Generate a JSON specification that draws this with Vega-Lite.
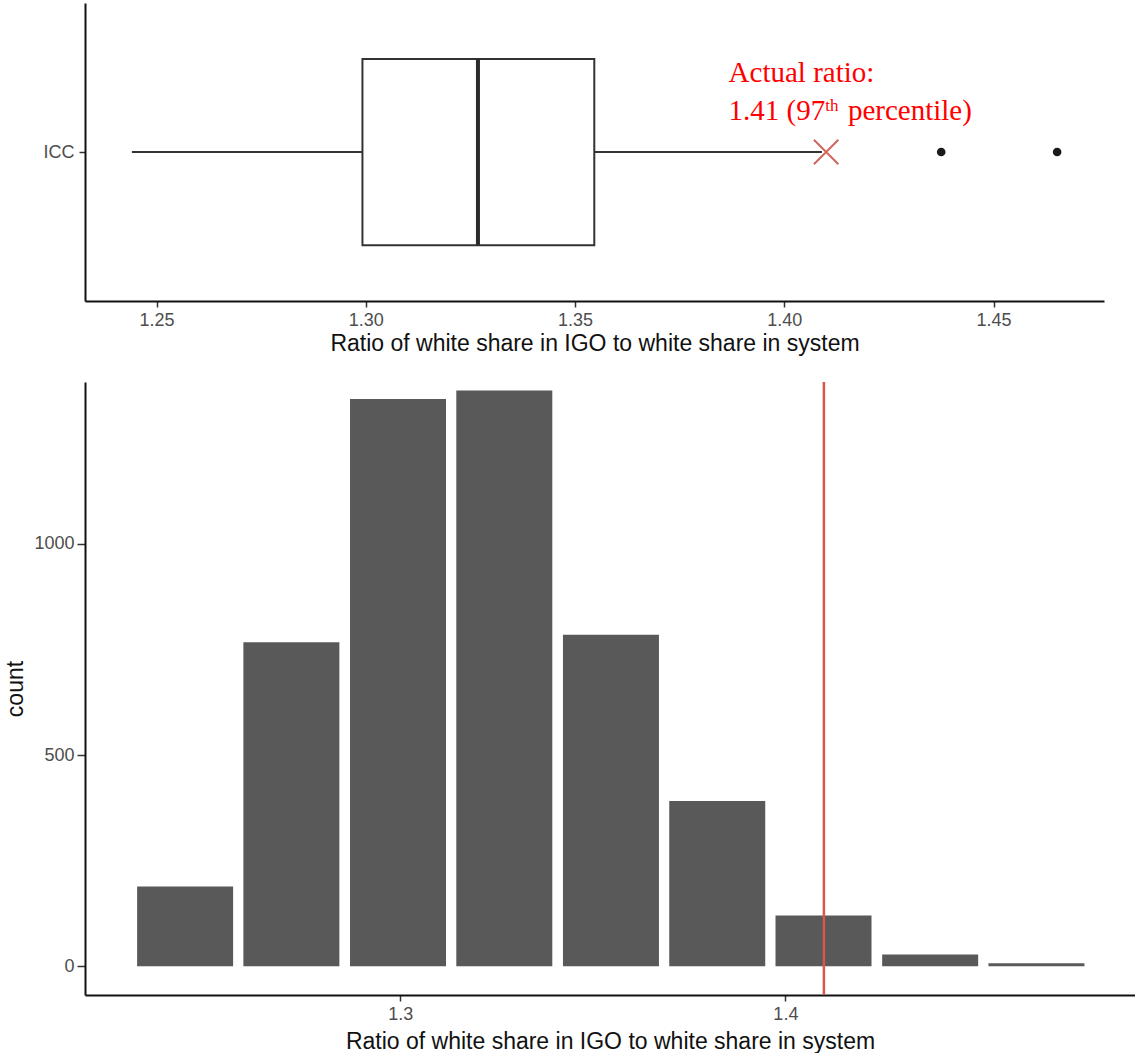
{
  "$schema": "https://vega.github.io/schema/vega-lite/v6.json",
  "background": "white",
  "padding": {"left": 4, "top": 3, "right": 0, "bottom": 0},
  "spacing": 25,
  "config": {
    "view": {"stroke": null},
    "axis": {
      "grid": false,
      "domainColor": "#111111",
      "domainWidth": 2,
      "tickColor": "#333333",
      "tickWidth": 1.5,
      "tickSize": 6,
      "labelPadding": 4,
      "labelColor": "#4d4d4d",
      "labelFont": "Liberation Sans",
      "labelFontSize": 18,
      "titleFont": "Liberation Sans",
      "titleFontSize": 23,
      "titleFontWeight": "normal",
      "titleColor": "#111111"
    }
  },
  "datasets": {
    "box": [
      {"group": "ICC", "lower": 1.2441, "q1": 1.2992, "median": 1.3268, "q3": 1.3546, "upper": 1.409}
    ],
    "outliers": [
      {"group": "ICC", "ratio": 1.4375},
      {"group": "ICC", "ratio": 1.4652}
    ],
    "actual": [
      {"group": "ICC", "ratio": 1.41}
    ],
    "hist": [
      {"bin_mid": 1.2441, "count": 189},
      {"bin_mid": 1.2717, "count": 767},
      {"bin_mid": 1.2994, "count": 1343},
      {"bin_mid": 1.3270, "count": 1363},
      {"bin_mid": 1.3547, "count": 785},
      {"bin_mid": 1.3823, "count": 391},
      {"bin_mid": 1.4099, "count": 120},
      {"bin_mid": 1.4376, "count": 28},
      {"bin_mid": 1.4652, "count": 7}
    ]
  },
  "vconcat": [
    {
      "width": 1019,
      "height": 298,
      "data": {"name": "box"},
      "encoding": {
        "x": {
          "type": "quantitative",
          "scale": {"domain": [1.2329, 1.4764], "nice": false, "zero": false},
          "axis": {"values": [1.25, 1.3, 1.35, 1.4, 1.45], "format": ".2f", "title": "Ratio of white share in IGO to white share in system", "titlePadding": 3}
        },
        "y": {
          "type": "quantitative",
          "scale": {"domain": [0.4, 1.6], "nice": false, "zero": false},
          "axis": {"values": [1], "labelExpr": "'ICC'", "title": null, "labelPadding": 5}
        }
      },
      "layer": [
        {
          "mark": {"type": "rule", "color": "#333333", "strokeWidth": 2},
          "encoding": {"x": {"field": "lower"}, "x2": {"field": "q1"}, "y": {"datum": 1}}
        },
        {
          "mark": {"type": "rule", "color": "#333333", "strokeWidth": 2},
          "encoding": {"x": {"field": "q3"}, "x2": {"field": "upper"}, "y": {"datum": 1}}
        },
        {
          "mark": {"type": "rect", "fill": "white", "stroke": "#333333", "strokeWidth": 2},
          "encoding": {"x": {"field": "q1"}, "x2": {"field": "q3"}, "y": {"datum": 0.625}, "y2": {"datum": 1.375}}
        },
        {
          "mark": {"type": "rule", "color": "#2b2b2b", "strokeWidth": 4},
          "encoding": {"x": {"field": "median"}, "y": {"datum": 0.625}, "y2": {"datum": 1.375}}
        },
        {
          "data": {"name": "outliers"},
          "mark": {"type": "point", "filled": true, "shape": "circle", "size": 75, "color": "#1a1a1a", "opacity": 1},
          "encoding": {"x": {"field": "ratio"}, "y": {"datum": 1}}
        },
        {
          "data": {"name": "actual"},
          "mark": {"type": "point", "shape": "M-1,-1L1,1M-1,1L1,-1", "filled": false, "size": 600, "stroke": "#d0675c", "strokeWidth": 2, "opacity": 1},
          "encoding": {"x": {"field": "ratio"}, "y": {"datum": 1}}
        },
        {
          "mark": {"type": "text", "font": "Liberation Serif", "fontSize": 29, "color": "#ff0000", "align": "left", "baseline": "alphabetic"},
          "encoding": {"x": {"datum": 1.3867}, "y": {"datum": 1.2804}, "text": {"value": "Actual ratio:"}}
        },
        {
          "mark": {"type": "text", "font": "Liberation Serif", "fontSize": 29, "color": "#ff0000", "align": "left", "baseline": "alphabetic"},
          "encoding": {"x": {"datum": 1.3867}, "y": {"datum": 1.1295}, "text": {"value": "1.41 (97"}}
        },
        {
          "mark": {"type": "text", "font": "Liberation Serif", "fontSize": 17, "color": "#ff0000", "align": "left", "baseline": "alphabetic"},
          "encoding": {"x": {"datum": 1.4098}, "y": {"datum": 1.166}, "text": {"value": "th"}}
        },
        {
          "mark": {"type": "text", "font": "Liberation Serif", "fontSize": 29, "color": "#ff0000", "align": "left", "baseline": "alphabetic"},
          "encoding": {"x": {"datum": 1.4152}, "y": {"datum": 1.1295}, "text": {"value": "percentile)"}}
        }
      ]
    },
    {
      "width": 1050,
      "height": 613,
      "data": {"name": "hist"},
      "encoding": {
        "x": {
          "type": "quantitative",
          "scale": {"domain": [1.2194, 1.4895], "nice": false, "zero": false},
          "axis": {"values": [1.3, 1.4], "format": ".1f", "title": "Ratio of white share in IGO to white share in system", "titlePadding": 7}
        }
      },
      "layer": [
        {
          "mark": {"type": "bar", "width": 96, "color": "#595959"},
          "encoding": {
            "x": {"field": "bin_mid", "type": "quantitative"},
            "y": {
              "field": "count",
              "type": "quantitative",
              "scale": {"domain": [-68, 1383], "nice": false, "zero": false},
              "axis": {"values": [0, 500, 1000], "format": "d", "title": "count", "tickSize": 8, "labelPadding": 3, "titlePadding": 6}
            },
            "y2": {"datum": 0}
          }
        },
        {
          "data": {"values": [{"ratio": 1.41}]},
          "mark": {"type": "rule", "color": "#d6584d", "strokeWidth": 2.5},
          "encoding": {"x": {"field": "ratio", "type": "quantitative"}}
        }
      ]
    }
  ]
}
